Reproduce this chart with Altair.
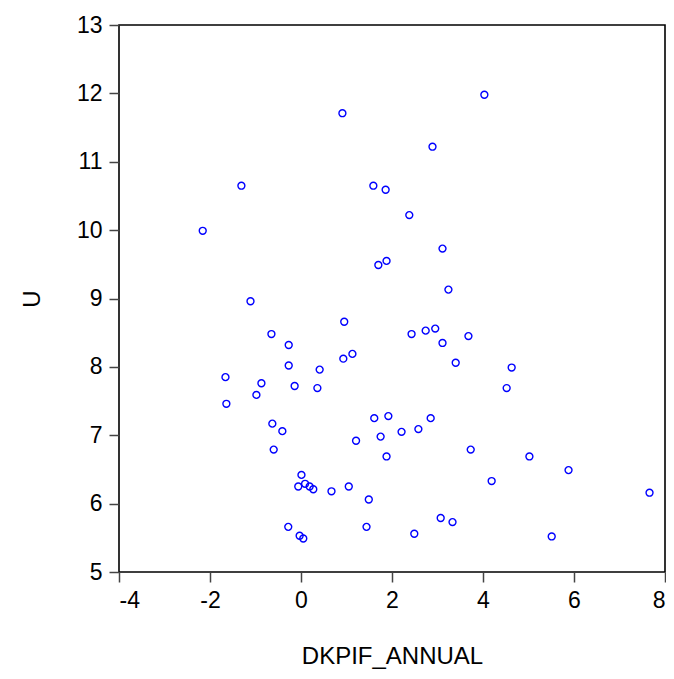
import altair as alt
import pandas as pd

dkpif_annual = [4.03, 0.91, 2.89, -1.31, 1.59, 1.86, 2.38, -2.16, 3.11, 1.70, 1.88, 3.24,
                -1.11, 0.95, -0.65, 2.43, 2.74, 2.95, 3.68, -0.27, 3.11, 0.93, 1.13, -0.27,
                3.40, 0.41, 4.63, -1.66, -0.87, -0.14, 0.36, 4.52, -0.98, -1.64, -0.63, -0.41,
                1.61, 1.92, 2.85, 2.21, 2.58, 1.21, 1.75, -0.60, 1.88, 3.73, 5.02, 5.88,
                0.01, 0.09, -0.06, 0.19, 0.27, 0.67, 1.05, 4.19, 7.66, 1.49, 3.07, 3.33,
                -0.28, 1.44, -0.03, 0.05, 2.49, 5.51]
u = [11.98, 11.71, 11.22, 10.65, 10.65, 10.59, 10.22, 9.99, 9.73, 9.49, 9.55, 9.13,
     8.96, 8.66, 8.48, 8.48, 8.53, 8.56, 8.45, 8.32, 8.35, 8.12, 8.19, 8.02,
     8.06, 7.96, 7.99, 7.85, 7.76, 7.72, 7.69, 7.69, 7.59, 7.46, 7.17, 7.06,
     7.25, 7.28, 7.25, 7.05, 7.09, 6.92, 6.98, 6.79, 6.69, 6.79, 6.69, 6.49,
     6.42, 6.29, 6.25, 6.25, 6.21, 6.18, 6.25, 6.33, 6.16, 6.06, 5.79, 5.73,
     5.66, 5.66, 5.53, 5.49, 5.56, 5.52]

df = pd.DataFrame({"DKPIF_ANNUAL": dkpif_annual, "U": u})

chart = alt.Chart(df).mark_point(
    shape="circle", filled=False, color="#0000FF", size=48, strokeWidth=1.4, opacity=1
).encode(
    x=alt.X("DKPIF_ANNUAL:Q", scale=alt.Scale(domain=[-4, 8], nice=False, zero=False),
            axis=alt.Axis(values=[-4, -2, 0, 2, 4, 6, 8], title="DKPIF_ANNUAL",
                          titleY=91, titleBaseline="alphabetic",
                          labelExpr="datum.value < 0 ? '-' + abs(datum.value) : '' + datum.value")),
    y=alt.Y("U:Q", scale=alt.Scale(domain=[5, 13], nice=False, zero=False),
            axis=alt.Axis(values=[5, 6, 7, 8, 9, 10, 11, 12, 13], title="U",
                          titleX=-87, titleBaseline="middle")),
).properties(
    width=546, height=547,
    autosize=alt.AutoSizeParams(type="none"),
    padding={"left": 111, "top": 17, "right": 1, "bottom": 98},
).configure_view(
    stroke="black", strokeWidth=1.6
).configure_axis(
    grid=False, domain=False, tickColor="#444444", tickSize=10, tickWidth=1.5,
    labelFont="Liberation Sans", labelFontSize=23, labelColor="black", labelPadding=7,
    titleFont="Liberation Sans", titleFontSize=24, titleFontWeight="normal", titleColor="black",
).configure_axisY(
    titleAngle=-90, titleAnchor="middle"
)

chart.save("out.html", embed_options={"renderer": "svg", "actions": False})
